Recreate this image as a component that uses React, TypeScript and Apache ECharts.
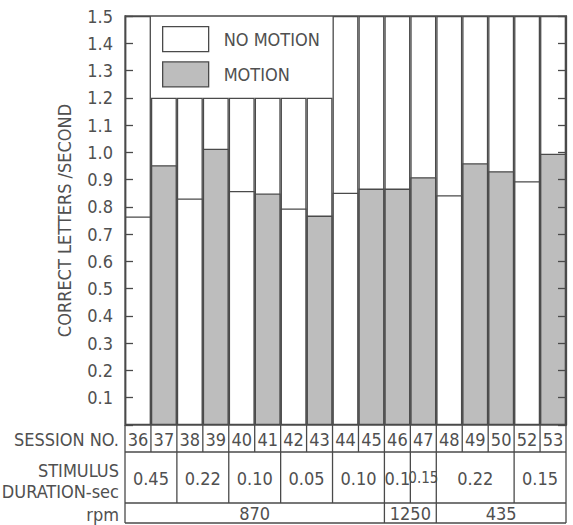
import React, { useEffect, useRef } from 'react';
import * as echarts from 'echarts';

// ---- data ----
const sessions = ['36', '37', '38', '39', '40', '41', '42', '43', '44', '45', '46', '47', '48', '49', '50', '52', '53'];
const values = [0.765, 0.953, 0.831, 1.013, 0.858, 0.849, 0.794, 0.768, 0.852, 0.867, 0.867, 0.909, 0.843, 0.96, 0.931, 0.894, 0.995];
const motion = [false, true, false, true, false, true, false, true, false, true, true, true, false, true, true, false, true];
const legendCols = ['37', '38', '39', '40', '41', '42', '43'];
const durations = ['0.45', '0.22', '0.10', '0.05', '0.10', '0.1', '0.15', '0.22', '0.15'];
const durationSpans = [2, 2, 2, 2, 2, 1, 1, 3, 2];
const rpms = ['870', '1250', '435'];
const rpmSpans = [10, 2, 5];
const rowLabels = ['SESSION NO.', 'STIMULUS', 'DURATION-sec', 'rpm'];

// ---- layout ----
const W = 573, H = 525;
const L = 125, R = 566, T = 16, B = 425;
const ROW1 = 452, ROW2 = 503, ROW3 = 523;
const FONT = '"Liberation Sans Narrow", "DejaVu Sans Condensed", "Roboto", sans-serif';
const INK = '#4a4a4a';
const TXT = '#505050';
const GRAY = '#bdbdbd';
const LW = 1.3;

function buildGraphic() {
  const n = sessions.length;
  const colW = (R - L) / n;
  const els: any[] = [];
  const line = (x1: number, y1: number, x2: number, y2: number) =>
    els.push({ type: 'line', silent: true, shape: { x1, y1, x2, y2 }, style: { stroke: INK, lineWidth: LW } });
  const text = (t: string, x: number, y: number, align: string, size: number) =>
    els.push({
      type: 'text', silent: true, x, y,
      style: { text: t, fill: TXT, fontSize: size, fontFamily: FONT, align, verticalAlign: 'middle' },
    });
  // horizontal rules
  line(L, ROW1, R, ROW1);
  line(L, ROW2, R, ROW2);
  line(L, ROW3, R, ROW3);
  line(L, B, L, ROW3);
  line(R, B, R, ROW3);
  // session separators
  for (let i = 1; i < n; i++) line(L + i * colW, B, L + i * colW, ROW1);
  // duration groups
  let c = 0;
  durations.forEach((d, k) => {
    const span = durationSpans[k];
    const x0 = L + c * colW, x1 = L + (c + span) * colW;
    if (c > 0) line(x0, ROW1, x0, ROW2);
    const narrow = span === 1 && d.length > 3;
    text(d, (x0 + x1) / 2, 478, 'center', narrow ? 15 : 18);
    c += span;
  });
  // rpm groups
  c = 0;
  rpms.forEach((r, k) => {
    const span = rpmSpans[k];
    const x0 = L + c * colW, x1 = L + (c + span) * colW;
    if (c > 0) line(x0, ROW2, x0, ROW3);
    text(r, (x0 + x1) / 2, 513, 'center', 18);
    c += span;
  });
  // row labels
  text(rowLabels[0], 119, 439, 'right', 18);
  text(rowLabels[1], 119, 470, 'right', 18);
  text(rowLabels[2], 119, 491, 'right', 18);
  text(rowLabels[3], 119, 514, 'right', 18);
  return els;
}

export default function App() {
  const ref = useRef<HTMLDivElement>(null);
  useEffect(() => {
    document.body.style.margin = '0';
    if (!ref.current) return;
    const chart = echarts.init(ref.current, undefined, { renderer: 'svg' });
    const barBase = {
      type: 'bar' as const,
      barGap: '-100%',
      barCategoryGap: '0%',
      silent: true,
      animation: false,
    };
    const tickStyle = { show: true, inside: true, length: 8, lineStyle: { color: INK, width: LW } };
    const option: any = {
      animation: false,
      backgroundColor: '#fff',
      grid: {
        left: L, top: T, width: R - L, height: B - T,
        show: true, borderColor: INK, borderWidth: LW, backgroundColor: 'transparent',
      },
      legend: {
        data: ['NO MOTION', 'MOTION'],
        orient: 'vertical',
        left: 162,
        top: 26,
        padding: 0,
        itemWidth: 46,
        itemHeight: 25,
        itemGap: 9,
        selectedMode: false,
        icon: 'rect',
        itemStyle: { borderColor: INK, borderWidth: LW },
        textStyle: { fontSize: 18, fontFamily: FONT, color: TXT, padding: [0, 0, 0, 10] },
      },
      xAxis: {
        type: 'category',
        data: sessions,
        axisLine: { show: false },
        axisTick: { show: false },
        axisLabel: { fontSize: 18, fontFamily: FONT, color: TXT, margin: 5, interval: 0 },
        splitLine: { show: false },
      },
      yAxis: [
        {
          type: 'value', min: 0, max: 1.5, interval: 0.1, z: 5,
          name: 'CORRECT LETTERS /SECOND',
          nameLocation: 'middle',
          nameGap: 52,
          nameTextStyle: { fontSize: 18, fontFamily: FONT, color: TXT },
          axisLine: { show: true, lineStyle: { color: INK, width: LW } },
          axisTick: tickStyle,
          axisLabel: {
            fontSize: 18, fontFamily: FONT, color: TXT, margin: 12,
            formatter: (v: number) => (v === 0 ? '' : v.toFixed(1)),
          },
          splitLine: { show: false },
        },
        {
          type: 'value', min: 0, max: 1.5, interval: 0.1, position: 'right', z: 5,
          axisLine: { show: true, lineStyle: { color: INK, width: LW } },
          axisTick: tickStyle,
          axisLabel: { show: false },
          splitLine: { show: false },
        },
      ],
      series: [
        {
          ...barBase,
          name: 'col',
          data: sessions.map((s) => (legendCols.includes(s) ? 1.2 : 1.5)),
          itemStyle: { color: '#fff', borderColor: INK, borderWidth: LW },
        },
        {
          ...barBase,
          name: 'NO MOTION',
          data: values.map((v, i) => (motion[i] ? '-' : v)),
          itemStyle: { color: '#fff', borderColor: INK, borderWidth: LW },
        },
        {
          ...barBase,
          name: 'MOTION',
          data: values.map((v, i) => (motion[i] ? v : '-')),
          itemStyle: { color: GRAY, borderColor: INK, borderWidth: LW },
        },
      ],
      graphic: buildGraphic(),
    };
    chart.setOption(option);
    return () => chart.dispose();
  }, []);
  return <div ref={ref} style={{ width: W, height: H, position: 'fixed', left: 0, top: 0 }} />;
}
